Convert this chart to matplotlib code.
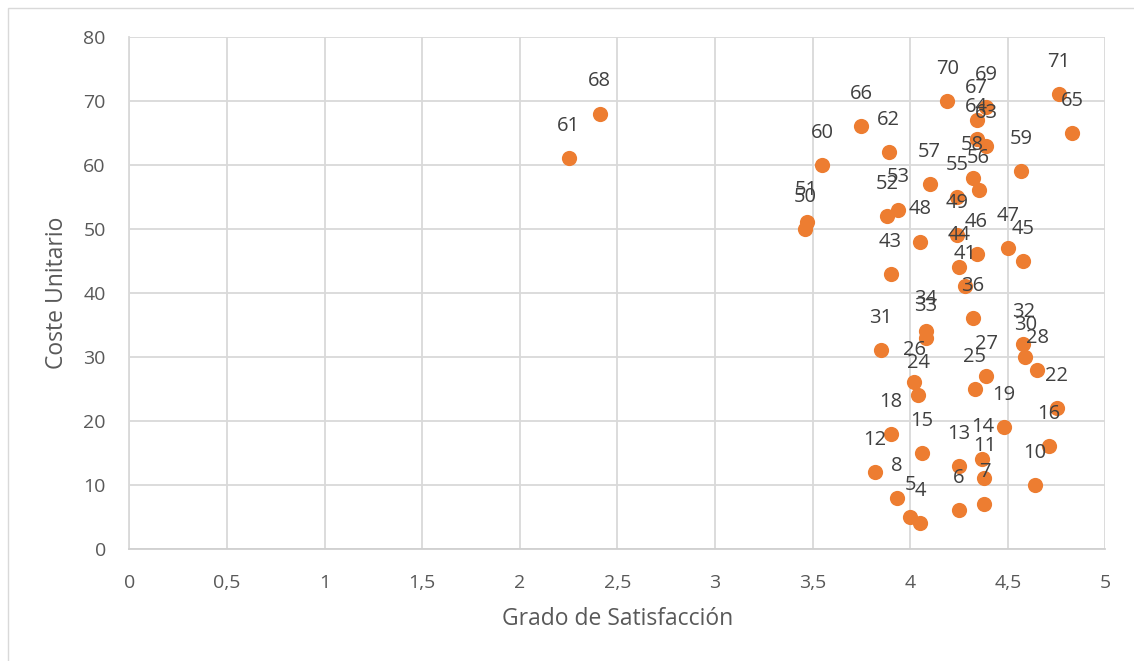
import matplotlib
matplotlib.use("Agg")
import matplotlib.pyplot as plt
from matplotlib.patches import Rectangle

# Data (x: satisfaction, y: unit cost; labels show the y value)
satisfaccion = [2.41, 2.25, 3.75, 3.89, 4.19, 4.76, 4.83, 4.39, 4.34, 4.34, 4.39,
                4.32, 4.35, 4.57, 4.10, 4.24, 3.94, 3.88, 4.24, 4.05, 3.47, 3.46,
                3.55, 4.50, 4.58, 4.34, 4.25, 3.90, 4.28, 4.32, 4.08, 4.08, 3.85,
                4.58, 4.59, 4.65, 4.39, 4.02, 4.33, 4.04, 4.75, 4.48, 3.90, 4.71,
                4.06, 4.37, 4.25, 3.82, 4.38, 4.64, 3.93, 4.38, 4.25, 4.00, 4.05]
coste = [68, 61, 66, 62, 70, 71, 65, 69, 67, 64, 63,
         58, 56, 59, 57, 55, 53, 52, 49, 48, 51, 50,
         60, 47, 45, 46, 44, 43, 41, 36, 34, 33, 31,
         32, 30, 28, 27, 26, 25, 24, 22, 19, 18, 16,
         15, 14, 13, 12, 11, 10, 8, 7, 6, 5, 4]

x_ticks = [0, 0.5, 1, 1.5, 2, 2.5, 3, 3.5, 4, 4.5, 5]
x_tick_labels = ["0", "0,5", "1", "1,5", "2", "2,5", "3", "3,5", "4", "4,5", "5"]
y_ticks = [0, 10, 20, 30, 40, 50, 60, 70, 80]

plt.rcParams['font.family'] = ['Open Sans', 'DejaVu Sans']

fig = plt.figure(figsize=(11.34, 6.61), dpi=100)
fig.patches.append(Rectangle((8 / 1134, -0.1), 1.2, 1 - 8 / 661 + 0.1,
                             transform=fig.transFigure, fill=False,
                             edgecolor='#D9D9D9', linewidth=1.0))
ax = fig.add_axes([129.4 / 1134, 1 - 548.7 / 661, (1105.4 - 129.4) / 1134, (548.7 - 36.7) / 661])

ax.scatter(satisfaccion, coste, s=120, color='#ED7D31', zorder=3, linewidths=0)
for xv, yv in zip(satisfaccion, coste):
    ax.annotate(str(yv), (xv, yv), xytext=(0, 32), textcoords='offset pixels',
                ha='center', va='center', fontsize=14.5, color='#404040', zorder=4)

ax.set_xlim(0, 5)
ax.set_ylim(0, 80)
ax.set_xticks(x_ticks)
ax.set_xticklabels(x_tick_labels)
ax.set_yticks(y_ticks)
ax.grid(True, color='#D9D9D9', linewidth=1.3)
ax.set_axisbelow(True)
for side in ['top', 'right']:
    ax.spines[side].set_visible(False)
ax.spines['left'].set_color('#D9D9D9')
ax.spines['bottom'].set_color('#D0D0D0')
ax.spines['left'].set_linewidth(1.3)
ax.spines['bottom'].set_linewidth(1.3)
ax.tick_params(axis='both', length=0, labelsize=14, labelcolor='#595959')
ax.tick_params(axis='y', pad=17)
ax.tick_params(axis='x', pad=18)
ax.set_xlabel('Grado de Satisfacción', fontsize=16.5, color='#595959', labelpad=11)
ax.set_ylabel('Coste Unitario', fontsize=16.5, color='#595959', labelpad=10)

fig.savefig('out.png', dpi=100)
